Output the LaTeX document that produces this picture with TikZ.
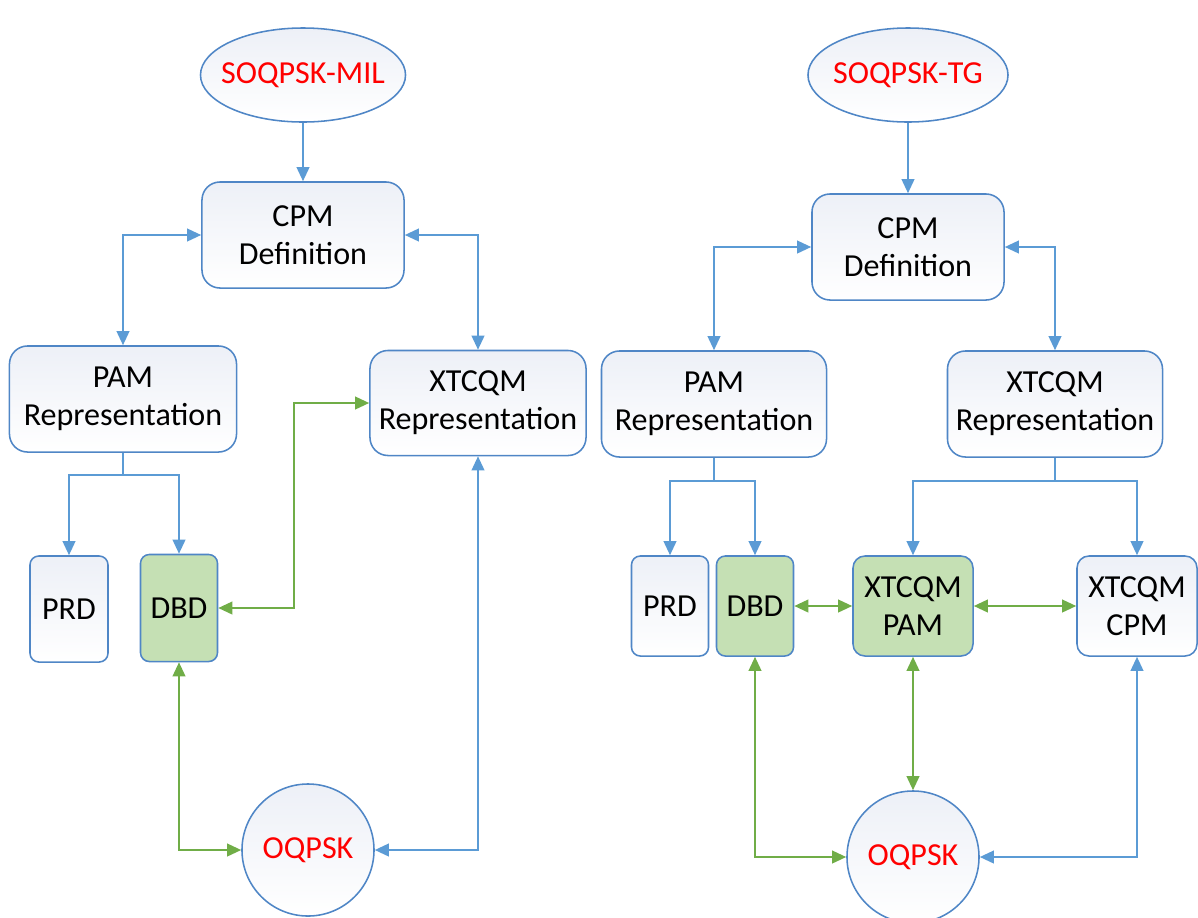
\documentclass[tikz,border=0pt]{standalone}
\usepackage{fontspec}
\setmainfont{Carlito}
\usepackage{xcolor}
\usepackage{tikz}
\usetikzlibrary{shapes.geometric, arrows.meta}

\definecolor{lineblue}{HTML}{5B9BD5}
\definecolor{edgeblue}{HTML}{4F86C6}
\definecolor{linegreen}{HTML}{70AD47}
\definecolor{fillgreen}{HTML}{C5E0B4}
\definecolor{boxtop}{HTML}{EDF0F7}

\begin{document}
\begin{tikzpicture}[x=0.025cm, y=-0.025cm,
    >={Triangle[length=10pt, width=9pt]},
    basebox/.style={draw=edgeblue, line width=1.1pt, align=center, inner sep=0pt,
        font=\fontsize{22.8}{27}\selectfont},
    box/.style={basebox, rounded corners=0.45cm, top color=boxtop, bottom color=white},
    smallbox/.style={basebox, rounded corners=0.22cm, top color=boxtop, bottom color=white},
    greenbox/.style={basebox, rounded corners=0.22cm, fill=fillgreen},
    src/.style={basebox, ellipse, inner xsep=-0.5cm, top color=boxtop, bottom color=white, text=red},
    circ/.style={basebox, circle, minimum size=3.3cm, top color=boxtop, bottom color=white, text=red},
    blueline/.style={draw=lineblue, line width=1.4pt},
    greenline/.style={draw=linegreen, line width=1.4pt}]
    \useasboundingbox (0,0) rectangle (1198,917);

    % Linke Seite: SOQPSK-MIL
    \node[src, minimum width=5.125cm, minimum height=2.35cm] (milsrc) at (303,75) {SOQPSK-MIL};
    \node[box, minimum width=5.05cm, minimum height=2.65cm] (cpmL) at (303,235) {CPM\\Definition};
    \node[box, minimum width=5.675cm, minimum height=2.65cm] (pamL) at (123,399) {PAM\\Representation};
    \node[box, minimum width=5.4cm, minimum height=2.625cm] (xtL) at (478,403) {XTCQM\\Representation};
    \node[smallbox, minimum width=1.95cm, minimum height=2.65cm] (prdL) at (69,609) {PRD};
    \node[greenbox, minimum width=1.925cm, minimum height=2.675cm] (dbdL) at (179,608) {DBD};
    \node[circ] (oqL) at (308,850) {OQPSK};

    \draw[blueline, ->] (milsrc) -- (cpmL);
    \draw[blueline, <->] (cpmL.west) -| (pamL.north);
    \draw[blueline, <->] (cpmL.east) -| (xtL.north);
    \draw[blueline, ->] (pamL.south) -- ++(0,22) -| (prdL.north);
    \draw[blueline, ->] (pamL.south) -- ++(0,22) -| (dbdL.north);
    \draw[greenline, <->] (dbdL.east) -- ++(76,0) |- (xtL.west);
    \draw[greenline, <->] (dbdL.south) |- (oqL.west);
    \draw[blueline, <->] (oqL.east) -| (xtL.south);

    % Rechte Seite: SOQPSK-TG
    \node[src, minimum width=5cm, minimum height=2.35cm] (tgsrc) at (908,75) {SOQPSK-TG};
    \node[box, minimum width=4.8cm, minimum height=2.65cm] (cpmR) at (908,247) {CPM\\Definition};
    \node[box, minimum width=5.625cm, minimum height=2.65cm] (pamR) at (714,404) {PAM\\Representation};
    \node[box, minimum width=5.375cm, minimum height=2.65cm] (xtR) at (1055,404) {XTCQM\\Representation};
    \node[smallbox, minimum width=1.925cm, minimum height=2.5cm] (prdR) at (670,606) {PRD};
    \node[greenbox, minimum width=1.925cm, minimum height=2.5cm] (dbdR) at (755,606) {DBD};
    \node[greenbox, rounded corners=0.3cm, minimum width=3cm, minimum height=2.5cm] (xpam) at (913,606) {XTCQM\\PAM};
    \node[smallbox, rounded corners=0.3cm, minimum width=3cm, minimum height=2.5cm] (xcpm) at (1137,606) {XTCQM\\CPM};
    \node[circ] (oqR) at (913,857) {OQPSK};

    \draw[blueline, ->] (tgsrc) -- (cpmR);
    \draw[blueline, <->] (cpmR.west) -| (pamR.north);
    \draw[blueline, <->] (cpmR.east) -| (xtR.north);
    \draw[blueline, ->] (pamR.south) -- ++(0,23) -| (prdR.north);
    \draw[blueline, ->] (pamR.south) -- ++(0,23) -| (dbdR.north);
    \draw[blueline, ->] (xtR.south) -- ++(0,23) -| (xpam.north);
    \draw[blueline, ->] (xtR.south) -- ++(0,23) -| (xcpm.north);
    \draw[greenline, <->] (dbdR) -- (xpam);
    \draw[greenline, <->] (xpam) -- (xcpm);
    \draw[greenline, <->] (xpam) -- (oqR);
    \draw[greenline, <->] (dbdR.south) |- (oqR.west);
    \draw[blueline, <->] (oqR.east) -| (xcpm.south);
\end{tikzpicture}
\end{document}
